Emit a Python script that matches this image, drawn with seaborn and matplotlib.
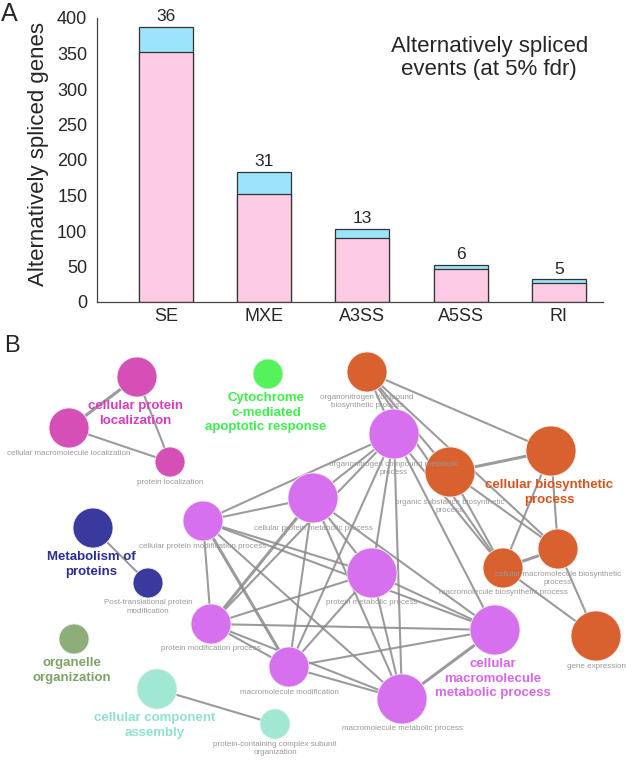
import matplotlib
matplotlib.use("Agg")
import matplotlib.pyplot as plt
import seaborn as sns
import pandas as pd
from matplotlib.collections import LineCollection

# ---- panel A: alternatively spliced genes per event type ----
events = ["SE", "MXE", "A3SS", "A5SS", "RI"]
genes_pink = [352, 152, 90, 46, 27]
genes_blue = [36, 31, 13, 6, 5]

# ---- panel B: GO term network ----
node_id = ["M1", "M2", "M3", "G1", "O1", "V1", "O2", "O3", "O4", "O5", "O6",
           "V2", "V3", "V4", "V5", "V6", "V7", "V8", "B1", "B2", "L1", "T1", "T2"]
node_term = [
    "cellular protein\nlocalization",
    "cellular macromolecule localization",
    "protein localization",
    "Cytochrome\nc-mediated\napoptotic response",
    "organonitrogen compound\nbiosynthetic process",
    "organonitrogen compound metabolic\nprocess",
    "organic substance biosynthetic\nprocess",
    "cellular biosynthetic\nprocess",
    "cellular macromolecule biosynthetic\nprocess",
    "macromolecule biosynthetic process",
    "gene expression",
    "cellular protein metabolic process",
    "cellular protein modification process",
    "protein metabolic process",
    "protein modification process",
    "macromolecule modification",
    "cellular\nmacromolecule\nmetabolic process",
    "macromolecule metabolic process",
    "Metabolism of\nproteins",
    "Post-translational protein\nmodification",
    "organelle\norganization",
    "cellular component\nassembly",
    "protein-containing complex subunit\norganization",
]
node_group = ["loc", "loc", "loc", "apo", "bio", "met", "bio", "bio", "bio", "bio", "bio",
              "met", "met", "met", "met", "met", "met", "met", "prot", "prot", "org", "asm", "asm"]
node_lead = [1, 0, 0, 1, 0, 0, 0, 1, 0, 0, 0, 0, 0, 0, 0, 0, 1, 0, 1, 0, 1, 1, 0]
node_tier = [2, 2, 1, 1, 2, 3, 3, 3, 2, 2, 3, 3, 2, 3, 2, 2, 3, 3, 2, 1, 1, 2, 1]
layout_x = [137, 69, 170, 268, 367, 394, 450, 551, 558, 503, 596,
            313, 203, 372, 211, 289, 495, 402, 93, 148, 74, 157, 275]
layout_y = [377, 428, 462, 374, 372, 434, 472, 451, 549, 568, 636,
            498, 521, 573, 624, 667, 630, 699, 528, 583, 639, 689, 724]

edges = [("M1", "M2"), ("M1", "M3"), ("M2", "M3"), ("B1", "B2"), ("T1", "T2"),
         ("O1", "O3"), ("O1", "O2"), ("O1", "O4"), ("O1", "O5"), ("O1", "V1"),
         ("O2", "O3"), ("O2", "O4"), ("O2", "O5"), ("O3", "O4"), ("O3", "O5"),
         ("O4", "O5"), ("O4", "O6"), ("O5", "O6"), ("V1", "O5"),
         ("V1", "V2"), ("V1", "V3"), ("V1", "V4"), ("V1", "V5"), ("V1", "V6"), ("V1", "V7"), ("V1", "V8"),
         ("V2", "V3"), ("V2", "V4"), ("V2", "V5"), ("V2", "V6"), ("V2", "V7"), ("V2", "V8"),
         ("V3", "V4"), ("V3", "V5"), ("V3", "V6"), ("V3", "V7"), ("V3", "V8"),
         ("V4", "V5"), ("V4", "V6"), ("V4", "V7"), ("V4", "V8"),
         ("V5", "V6"), ("V5", "V7"), ("V5", "V8"),
         ("V6", "V7"), ("V6", "V8"), ("V7", "V8")]
thick_edges = [("O2", "O3"), ("O4", "O5"), ("V7", "V8"), ("M1", "M2"), ("V2", "V5"), ("V3", "V6")]

group_color = {"loc": "#D44FB6", "apo": "#55F25C", "bio": "#D9602F", "met": "#D770EE",
               "prot": "#3A3A9E", "org": "#8DAE78", "asm": "#A0E8D4"}
label_color = {"loc": "#D63CBE", "apo": "#3EEE4C", "bio": "#D9521C", "met": "#D865EE",
               "prot": "#2B2B99", "org": "#7FA266", "asm": "#8EE2CD"}
tier_radius = {1: 15, 2: 20, 3: 25}

sns.set_style("white")
plt.rcParams["font.family"] = ["Liberation Sans", "DejaVu Sans"]

fig = plt.figure(figsize=(6.26, 7.6), dpi=100)

# ---- A ----
ax = fig.add_axes([97 / 626, 1 - 302 / 760, 506 / 626, 284 / 760])
totals = [p + b for p, b in zip(genes_pink, genes_blue)]
sns.barplot(x=events, y=totals, color="#9BE4FB", edgecolor="#333333", linewidth=0.9,
            width=0.55, saturation=1, ax=ax)
sns.barplot(x=events, y=genes_pink, color="#FECBE4", edgecolor="#333333", linewidth=0.9,
            width=0.55, saturation=1, ax=ax)
ax.bar_label(ax.containers[0], labels=[str(v) for v in genes_blue], padding=2, fontsize=12.5)
ax.set_ylim(0, 400)
ax.set_xlim(-0.70, 4.45)
ax.set_yticks(range(0, 401, 50))
ax.tick_params(axis="both", length=0, labelsize=13)
ax.tick_params(axis="y", pad=7)
ax.tick_params(axis="x", pad=4)
ax.set_ylabel("Alternatively spliced genes", fontsize=16)
ax.yaxis.set_label_coords(-0.095, 0.52)
for side in ["top", "right"]:
    ax.spines[side].set_visible(False)
for side in ["left", "bottom"]:
    ax.spines[side].set_color("#444444")
    ax.spines[side].set_linewidth(0.9)
ax.text(0.775, 0.86, "Alternatively spliced\nevents (at 5% fdr)", transform=ax.transAxes,
        ha="center", va="center", fontsize=16, linespacing=1.15)
fig.text(0.002, 0.998, "A", fontsize=18, va="top", ha="left")

# ---- B ----
nodes = pd.DataFrame({"id": node_id, "term": node_term, "group": node_group,
                      "lead": node_lead, "tier": node_tier, "x": layout_x, "y": layout_y})
pos = nodes.set_index("id")[["x", "y"]]

bx = fig.add_axes([0, 0, 1, 425 / 760])

segs = [[tuple(pos.loc[a]), tuple(pos.loc[b])] for a, b in edges]
widths = [2.2 if (a, b) in thick_edges else 1.5 for a, b in edges]
bx.add_collection(LineCollection(segs, colors="#8a8a8a", linewidths=widths, alpha=0.85, zorder=1))

sizes = {t: (2 * r * 0.72) ** 2 for t, r in tier_radius.items()}
sns.scatterplot(data=nodes, x="x", y="y", hue="group", palette=group_color, size="tier",
                sizes=sizes, legend=False, edgecolor="#eeeeee", linewidth=0.6, alpha=1,
                zorder=2, ax=bx)
bx.set_xlim(0, 626)
bx.set_ylim(760, 335)
bx.axis("off")

for _, n in nodes.iterrows():
    r = tier_radius[n["tier"]]
    if n["lead"]:
        bx.text(n["x"] - 2, n["y"] + r + 3, n["term"], ha="center", va="top", fontsize=9.5,
                fontweight="bold", color=label_color[n["group"]], linespacing=1.3, zorder=4)
    else:
        bx.text(n["x"], n["y"] + r + 1.5, n["term"], ha="center", va="top", fontsize=5.8,
                color="#999999", linespacing=1.3, zorder=4)

fig.text(0.006, 1 - 335 / 760, "B", fontsize=17, va="top", ha="left")

fig.savefig("out.png", dpi=100)
